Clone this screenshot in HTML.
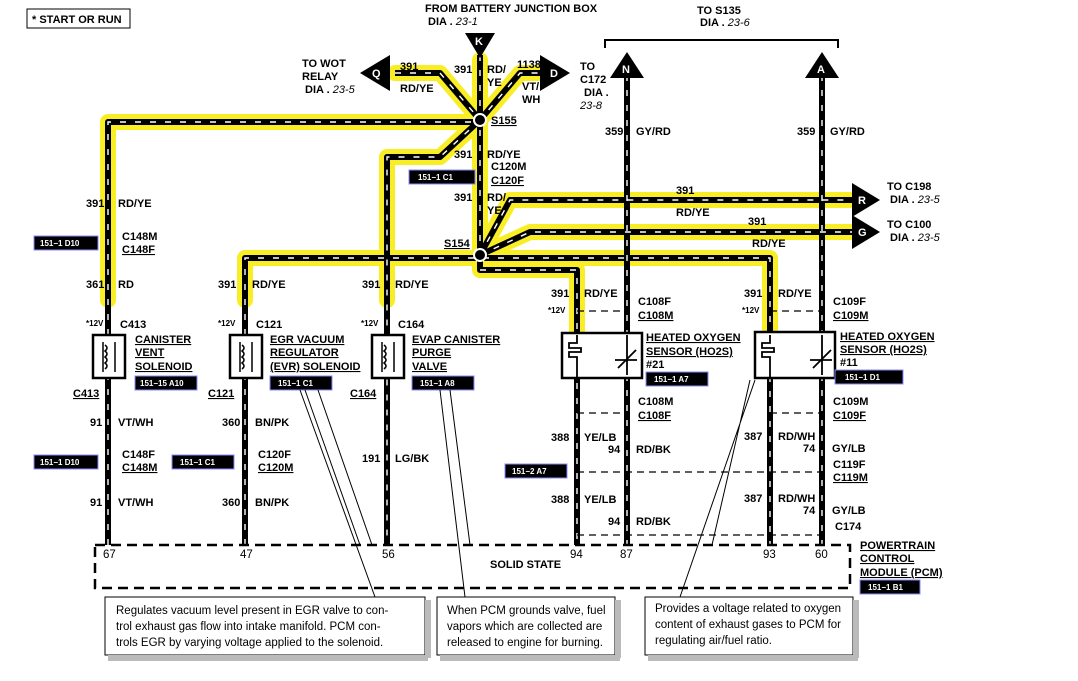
<!DOCTYPE html>
<html><head><meta charset="utf-8"><style>
body{margin:0;background:#fff}
svg{display:block}
text{font-family:"Liberation Sans",sans-serif;font-weight:bold;font-size:11px;fill:#000}
.s{font-size:8px}
.i{font-style:italic;font-weight:normal}
.n{font-weight:normal;font-size:11.5px}
.hl{fill:none;stroke:#f8ea00;stroke-width:16;stroke-linejoin:round;stroke-linecap:round;opacity:.85}
.w{fill:none;stroke:#000;stroke-width:6;stroke-linejoin:round}
.d{fill:none;stroke:#fff;stroke-width:1.4;stroke-dasharray:6 9}
.dash{fill:none;stroke:#000;stroke-width:1.3;stroke-dasharray:7 5}
.bdash{fill:none;stroke:#000;stroke-width:2.5;stroke-dasharray:10 6}
</style></head><body>
<svg width="1078" height="681" viewBox="0 0 1078 681">
<g class="hl">
<path d="M108 300 V122 H480"/>
<path d="M395 73 H440 L480 120 L520 73 H545"/>
<path d="M480 60 V255"/>
<path d="M480 120 L440 157 H387 V300"/>
<path d="M245 300 V258 H770 V330"/>
<path d="M480 255 L510 200 H850"/>
<path d="M480 255 L530 232 H850"/>
<path d="M480 255 V270 H577 V330"/>
</g>
<g>
<path class="w" d="M108 545 V122 H480"/>
<path class="w" d="M395 73 H440 L480 120 L520 73 H545"/>
<path class="w" d="M480 55 V255"/>
<path class="w" d="M480 120 L440 157 H387 V545"/>
<path class="w" d="M245 545 V258 H480 H770 V545"/>
<path class="w" d="M480 255 L510 200 H855"/>
<path class="w" d="M480 255 L530 232 H855"/>
<path class="w" d="M480 255 V270 H577 V545"/>
<path class="w" d="M627 75 V545"/>
<path class="w" d="M822 75 V545"/>
</g>
<g>
<path class="d" d="M108 545 V122 H480"/>
<path class="d" d="M395 73 H440 L480 120 L520 73 H545"/>
<path class="d" d="M480 55 V255"/>
<path class="d" d="M480 120 L440 157 H387 V545"/>
<path class="d" d="M245 545 V258 H770 V545"/>
<path class="d" d="M480 255 L510 200 H855"/>
<path class="d" d="M480 255 L530 232 H855"/>
<path class="d" d="M480 270 H577 V545"/>
<path class="d" d="M627 75 V545"/>
<path class="d" d="M822 75 V545"/>
</g>
<circle cx="480" cy="120" r="6" fill="#000" stroke="#fff" stroke-width="2"/>
<circle cx="480" cy="255" r="6" fill="#000" stroke="#fff" stroke-width="2"/>
<polygon points="465,33 495,33 480,58" fill="#000"/><text x="475" y="45" style="fill:#fff">K</text>
<polygon points="360,73 390,55 390,91" fill="#000"/><text x="372" y="77" style="fill:#fff">Q</text>
<polygon points="570,73 540,55 540,91" fill="#000"/><text x="550" y="77" style="fill:#fff">D</text>
<polygon points="627,52 610,78 644,78" fill="#000"/><text x="622" y="73" style="fill:#fff">N</text>
<polygon points="822,52 805,78 839,78" fill="#000"/><text x="817" y="73" style="fill:#fff">A</text>
<polygon points="880,200 852,183 852,217" fill="#000"/><text x="858" y="204" style="fill:#fff">R</text>
<polygon points="880,232 852,215 852,249" fill="#000"/><text x="858" y="236" style="fill:#fff">G</text>
<path d="M605 48 V40 H838 V48" fill="none" stroke="#000" stroke-width="2"/>
<rect x="27" y="9" width="103" height="19" fill="#fff" stroke="#000"/>
<text x="32" y="23">* START OR RUN</text>
<text x="425" y="12">FROM BATTERY JUNCTION BOX</text>
<text x="428" y="25">DIA . <tspan class="i">23-1</tspan></text>
<text x="697" y="14">TO S135</text>
<text x="700" y="26">DIA . <tspan class="i">23-6</tspan></text>
<text x="302" y="67">TO WOT</text><text x="302" y="80">RELAY</text><text x="305" y="93">DIA . <tspan class="i">23-5</tspan></text>
<text x="400" y="70">391</text><text x="400" y="92">RD/YE</text>
<text x="454" y="73">391</text><text x="487" y="73">RD/</text><text x="487" y="86">YE</text>
<text x="517" y="68">1138</text><text x="522" y="90">VT/</text><text x="522" y="103">WH</text>
<text x="580" y="70">TO</text><text x="580" y="83">C172</text><text x="584" y="96">DIA .</text><text class="i" x="580" y="109">23-8</text>
<text x="491" y="124" text-decoration="underline">S155</text>
<text x="454" y="158">391</text><text x="487" y="158">RD/YE</text>
<text x="491" y="170">C120M</text><text x="491" y="184" text-decoration="underline">C120F</text>
<rect x="409" y="170" width="66" height="14" fill="#000" stroke="#88f"/><text class="s" x="418" y="180" style="fill:#fff">151−1 C1</text>
<text x="454" y="201">391</text><text x="487" y="201">RD/</text><text x="487" y="214">YE</text>
<text x="444" y="247" text-decoration="underline">S154</text>
<text x="605" y="135">359</text><text x="636" y="135">GY/RD</text>
<text x="797" y="135">359</text><text x="830" y="135">GY/RD</text>
<text x="676" y="194">391</text><text x="676" y="216">RD/YE</text>
<text x="748" y="225">391</text><text x="752" y="247">RD/YE</text>
<text x="887" y="190">TO C198</text><text x="890" y="203">DIA . <tspan class="i">23-5</tspan></text>
<text x="887" y="228">TO C100</text><text x="890" y="241">DIA . <tspan class="i">23-5</tspan></text>
<text x="86" y="207">391</text><text x="118" y="207">RD/YE</text>
<text x="122" y="240">C148M</text><text x="122" y="253" text-decoration="underline">C148F</text>
<rect x="34" y="236" width="64" height="14" fill="#000" stroke="#88f"/><text class="s" x="40" y="246" style="fill:#fff">151−1 D10</text>
<text x="86" y="288">361</text><text x="118" y="288">RD</text>
<text x="218" y="288">391</text><text x="252" y="288">RD/YE</text>
<text x="362" y="288">391</text><text x="395" y="288">RD/YE</text>
<text class="s" x="86" y="326">*12V</text><text x="120" y="328">C413</text>
<text class="s" x="218" y="326">*12V</text><text x="256" y="328">C121</text>
<text class="s" x="361" y="326">*12V</text><text x="398" y="328">C164</text>
<rect x="93" y="335" width="32" height="43" fill="#fff" stroke="#000" stroke-width="2.5"/>
<rect x="230" y="335" width="32" height="43" fill="#fff" stroke="#000" stroke-width="2.5"/>
<rect x="372" y="335" width="32" height="43" fill="#fff" stroke="#000" stroke-width="2.5"/>
<g fill="none" stroke="#000" stroke-width="1.5">
<path d="M103 342 v30 M115 342 v30 M105 345 q4 3 0 6 q4 3 0 6 q4 3 0 6 q4 3 0 6"/>
<path d="M240 342 v30 M252 342 v30 M242 345 q4 3 0 6 q4 3 0 6 q4 3 0 6 q4 3 0 6"/>
<path d="M382 342 v30 M394 342 v30 M384 345 q4 3 0 6 q4 3 0 6 q4 3 0 6 q4 3 0 6"/>
</g>
<text x="135" y="343" text-decoration="underline">CANISTER</text><text x="135" y="356" text-decoration="underline">VENT</text><text x="135" y="370" text-decoration="underline">SOLENOID</text>
<rect x="135" y="376" width="62" height="14" fill="#000" stroke="#88f"/><text class="s" x="140" y="386" style="fill:#fff">151−15 A10</text>
<text x="270" y="343" text-decoration="underline">EGR VACUUM</text><text x="270" y="356" text-decoration="underline">REGULATOR</text><text x="270" y="370" text-decoration="underline">(EVR) SOLENOID</text>
<rect x="270" y="376" width="62" height="14" fill="#000" stroke="#88f"/><text class="s" x="278" y="386" style="fill:#fff">151−1 C1</text>
<text x="412" y="343" text-decoration="underline">EVAP CANISTER</text><text x="412" y="356" text-decoration="underline">PURGE</text><text x="412" y="370" text-decoration="underline">VALVE</text>
<rect x="412" y="376" width="62" height="14" fill="#000" stroke="#88f"/><text class="s" x="420" y="386" style="fill:#fff">151−1 A8</text>
<text x="73" y="397" text-decoration="underline">C413</text><text x="208" y="397" text-decoration="underline">C121</text><text x="350" y="397" text-decoration="underline">C164</text>
<text x="90" y="426">91</text><text x="118" y="426">VT/WH</text>
<text x="222" y="426">360</text><text x="255" y="426">BN/PK</text>
<text x="122" y="458">C148F</text><text x="122" y="471" text-decoration="underline">C148M</text>
<rect x="34" y="455" width="64" height="14" fill="#000" stroke="#88f"/><text class="s" x="40" y="465" style="fill:#fff">151−1 D10</text>
<text x="258" y="458">C120F</text><text x="258" y="471" text-decoration="underline">C120M</text>
<rect x="172" y="455" width="62" height="14" fill="#000" stroke="#88f"/><text class="s" x="180" y="465" style="fill:#fff">151−1 C1</text>
<text x="362" y="462">191</text><text x="395" y="462">LG/BK</text>
<text x="90" y="506">91</text><text x="118" y="506">VT/WH</text>
<text x="222" y="506">360</text><text x="255" y="506">BN/PK</text>
<path class="dash" d="M577 311 H627 M770 311 H822 M577 413 H627 M770 413 H822 M577 472 H822 M577 535 H822"/>
<rect x="562" y="333" width="80" height="45" fill="#fff" stroke="#000" stroke-width="2.5"/>
<rect x="755" y="332" width="80" height="46" fill="#fff" stroke="#000" stroke-width="2.5"/>
<g fill="none" stroke="#000" stroke-width="1.8">
<path d="M577 335 v8 h-8 v5 h12 v4 h-12 v5 h8 v20"/><path d="M627 335 v40 M615 360 h22 M618 368 l18 -18"/>
<path d="M770 335 v8 h-8 v5 h12 v4 h-12 v5 h8 v20"/><path d="M822 335 v40 M810 360 h22 M813 368 l18 -18"/>
</g>
<text x="551" y="297">391</text><text x="584" y="297">RD/YE</text>
<text class="s" x="548" y="313">*12V</text>
<text x="638" y="305">C108F</text><text x="638" y="319" text-decoration="underline">C108M</text>
<text x="646" y="341" text-decoration="underline">HEATED OXYGEN</text><text x="646" y="355" text-decoration="underline">SENSOR (HO2S)</text><text x="646" y="368">#21</text>
<rect x="646" y="372" width="62" height="14" fill="#000" stroke="#88f"/><text class="s" x="654" y="382" style="fill:#fff">151−1 A7</text>
<text x="744" y="297">391</text><text x="778" y="297">RD/YE</text>
<text class="s" x="742" y="313">*12V</text>
<text x="833" y="305">C109F</text><text x="833" y="319" text-decoration="underline">C109M</text>
<text x="840" y="340" text-decoration="underline">HEATED OXYGEN</text><text x="840" y="353" text-decoration="underline">SENSOR (HO2S)</text><text x="840" y="366">#11</text>
<rect x="835" y="370" width="68" height="14" fill="#000" stroke="#88f"/><text class="s" x="845" y="380" style="fill:#fff">151−1 D1</text>
<text x="638" y="405">C108M</text><text x="638" y="419" text-decoration="underline">C108F</text>
<text x="833" y="405">C109M</text><text x="833" y="419" text-decoration="underline">C109F</text>
<text x="551" y="441">388</text><text x="584" y="441">YE/LB</text><text x="608" y="453">94</text><text x="636" y="453">RD/BK</text>
<text x="744" y="440">387</text><text x="778" y="440">RD/WH</text><text x="803" y="452">74</text><text x="832" y="452">GY/LB</text>
<text x="833" y="468">C119F</text><text x="833" y="481" text-decoration="underline">C119M</text>
<rect x="505" y="464" width="62" height="14" fill="#000" stroke="#88f"/><text class="s" x="512" y="474" style="fill:#fff">151−2 A7</text>
<text x="551" y="503">388</text><text x="584" y="503">YE/LB</text><text x="608" y="525">94</text><text x="636" y="525">RD/BK</text>
<text x="744" y="502">387</text><text x="778" y="502">RD/WH</text><text x="803" y="514">74</text><text x="832" y="514">GY/LB</text>
<text x="835" y="530">C174</text>
<g stroke="#000" stroke-width="1">
<path d="M300 390 L375 597 M318 390 L372 545 M305 390 L360 545"/>
<path d="M440 390 L465 597 M450 390 L470 545"/>
<path d="M755 380 L680 597 M750 380 L712 545"/>
</g>
<path class="bdash" d="M95 545 H850 V588 H95 Z"/>
<text class="n" x="103" y="558">67</text><text class="n" x="240" y="558">47</text><text class="n" x="382" y="558">56</text>
<text class="n" x="570" y="558">94</text><text class="n" x="620" y="558">87</text><text class="n" x="763" y="558">93</text><text class="n" x="815" y="558">60</text>
<text x="490" y="568">SOLID STATE</text>
<text x="860" y="549" text-decoration="underline">POWERTRAIN</text><text x="860" y="562" text-decoration="underline">CONTROL</text><text x="860" y="576" text-decoration="underline">MODULE (PCM)</text>
<rect x="860" y="580" width="60" height="14" fill="#000" stroke="#88f"/><text class="s" x="868" y="590" style="fill:#fff">151−1 B1</text>
<g fill="#fff" stroke="#000"><rect x="105" y="597" width="320" height="58"/><rect x="437" y="597" width="178" height="58"/><rect x="645" y="597" width="208" height="58"/></g>
<g fill="#bbb"><rect x="425" y="600" width="6" height="58"/><rect x="108" y="655" width="320" height="6"/><rect x="615" y="600" width="6" height="58"/><rect x="440" y="655" width="180" height="6"/><rect x="853" y="600" width="6" height="58"/><rect x="648" y="655" width="210" height="6"/></g>
<text class="n" x="116" y="614">Regulates vacuum level present in EGR valve to con-</text><text class="n" x="116" y="630">trol exhaust gas flow into intake manifold. PCM con-</text><text class="n" x="116" y="646">trols EGR by varying voltage applied to the solenoid.</text>
<text class="n" x="447" y="614">When PCM grounds valve, fuel</text><text class="n" x="447" y="630">vapors which are collected are</text><text class="n" x="447" y="646">released to engine for burning.</text>
<text class="n" x="655" y="612">Provides a voltage related to oxygen</text><text class="n" x="655" y="628">content of exhaust gases to PCM for</text><text class="n" x="655" y="644">regulating air/fuel ratio.</text>
</svg>
</body></html>
